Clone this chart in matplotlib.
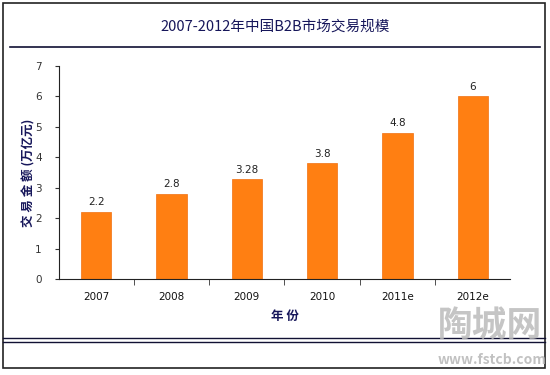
import matplotlib
matplotlib.use("Agg")
import matplotlib.pyplot as plt
from matplotlib.lines import Line2D
from matplotlib.patches import Rectangle

plt.rcParams['font.family'] = ['Noto Sans CJK SC', 'DejaVu Sans']

categories = ["2007", "2008", "2009", "2010", "2011e", "2012e"]
values = [2.2, 2.8, 3.28, 3.8, 4.8, 6]
value_labels = ["2.2", "2.8", "3.28", "3.8", "4.8", "6"]
yticks = [0, 1, 2, 3, 4, 5, 6, 7]

W, H = 550, 375
fig = plt.figure(figsize=(5.5, 3.75), dpi=100)
fig.patch.set_facecolor("white")

def fx(x): return x / W
def fy(y): return 1 - y / H

# outer frame
fig.add_artist(Rectangle((fx(3), fy(368)), fx(542), (368 - 3) / H, transform=fig.transFigure,
                         fill=False, edgecolor="#222222", linewidth=1.2))
# title line
fig.add_artist(Line2D([fx(10), fx(540)], [fy(47), fy(47)], transform=fig.transFigure,
                      color="#111133", linewidth=1.2))
# bottom double lines
for yy in (337.5, 341.5):
    fig.add_artist(Line2D([fx(3), fx(545)], [fy(yy), fy(yy)], transform=fig.transFigure,
                          color="#111133", linewidth=1.0))

fig.text(0.5, fy(27), "2007-2012年中国B2B市场交易规模", ha="center", va="center",
         fontsize=10.5, color="#16165a")

ax = fig.add_axes([fx(58.5), fy(279), fx(510.5 - 58.5), (279 - 66) / H])
x = list(range(len(categories)))
ax.bar(x, values, width=0.4, color="#FF7F12", edgecolor="#F07010", linewidth=0.5)
for xi, v, lab in zip(x, values, value_labels):
    ax.text(xi, v + 0.15, lab, ha="center", va="bottom", fontsize=7.5, color="#222222",
            family="DejaVu Sans")

ax.set_xlim(-0.5, len(categories) - 0.5)
ax.set_ylim(0, 7)
ax.set_yticks(yticks)
ax.set_yticklabels([str(t) for t in yticks], fontsize=7.5, color="#333333", family="DejaVu Sans")
ax.set_xticks(x)
ax.set_xticklabels(categories, fontsize=7.5, color="#111111", family="DejaVu Sans")
ax.tick_params(axis="x", length=0, pad=9)
ax.set_xticks([i + 0.5 for i in x[:-1]], minor=True)
ax.tick_params(axis="x", which="minor", length=4, direction="out", color="#333333")
ax.tick_params(axis="y", length=3, direction="out", color="#333333", pad=9)
for s in ("top", "right"):
    ax.spines[s].set_visible(False)
ax.spines["left"].set_color("#222222")
ax.spines["bottom"].set_color("#222222")

ax.set_xlabel("年 份", fontsize=9, fontweight="bold", color="#16165a", labelpad=6)
ax.set_ylabel("交 易 金 额 (万亿元)", fontsize=9, fontweight="bold", color="#16165a")
ax.yaxis.set_label_coords(-0.05, 0.5)

# watermark
fig.text(fx(490), fy(326), "陶城网", ha="center", va="center", fontsize=25,
         color="#bbbbbb", alpha=0.85, fontweight="bold")
fig.text(fx(492), fy(360), "www.fstcb.com", ha="center", va="center", fontsize=10,
         color="#bbbbbb", alpha=0.9, fontweight="bold")

fig.savefig("out.png", dpi=100)
